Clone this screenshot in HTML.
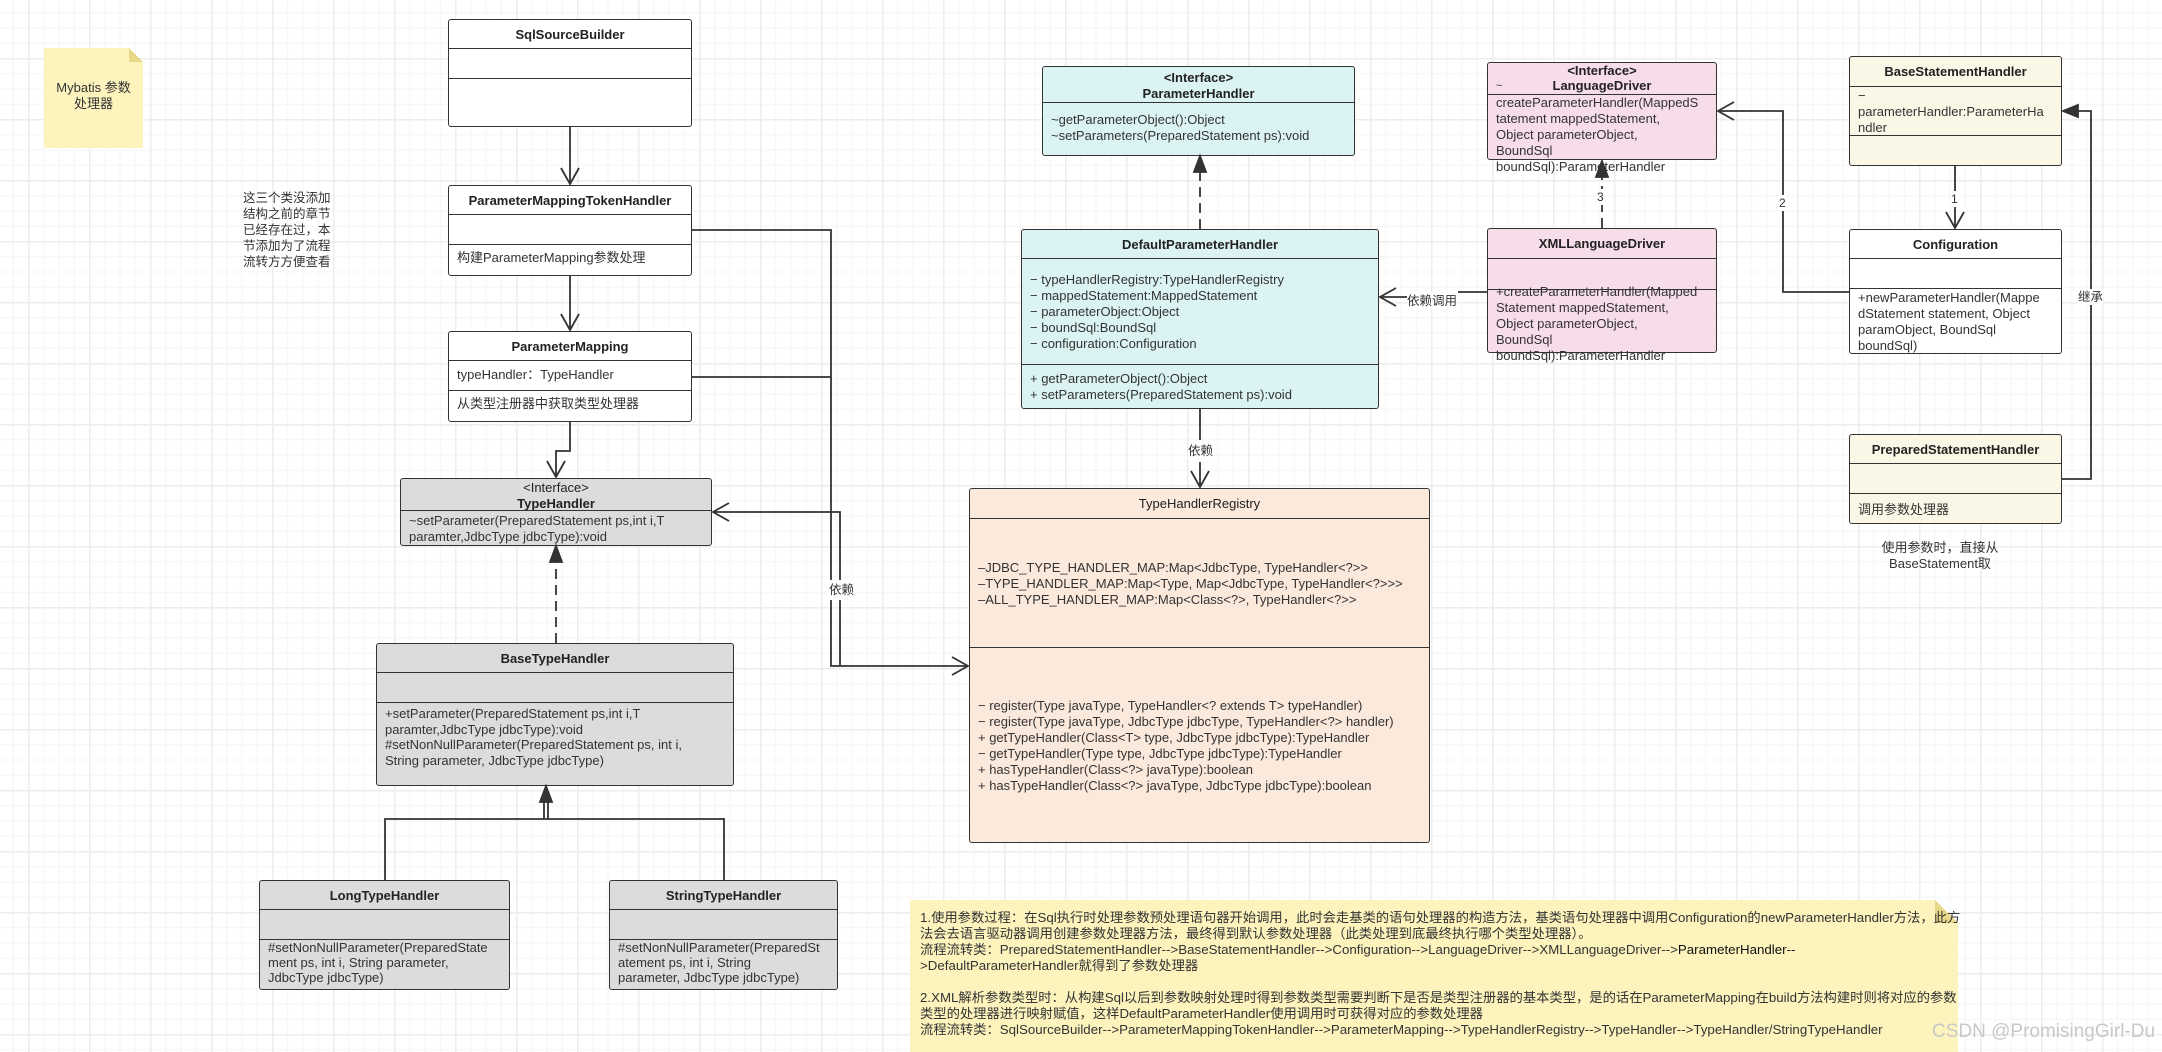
<!DOCTYPE html>
<html><head><meta charset="utf-8">
<style>
html,body{margin:0;padding:0;}
body{width:2162px;height:1052px;position:relative;overflow:hidden;background-color:#fff;
background-image:
linear-gradient(to right,#ededed 1.5px,transparent 1.5px),
linear-gradient(to bottom,#ededed 1.5px,transparent 1.5px),
linear-gradient(to right,#f5f5f5 1px,transparent 1px),
linear-gradient(to bottom,#f5f5f5 1px,transparent 1px);
background-size:61px 61px,61px 61px,15.25px 15.25px,15.25px 15.25px;
background-position:28px 58px,28px 58px,28px 58px,28px 58px;
font-family:"Liberation Sans","Noto Sans CJK SC",sans-serif;color:#333;}
.b{position:absolute;border:1.6px solid #333;border-radius:3px;box-sizing:border-box;}
.d{position:absolute;left:0;right:0;height:0;border-top:1.6px solid #333;}
.t{position:absolute;left:0;right:0;text-align:center;font-size:13px;font-weight:bold;color:#222;}
.m{position:absolute;left:8px;font-size:13px;line-height:16px;white-space:pre;color:#333;}
.txt{position:absolute;font-size:13px;line-height:16px;white-space:pre;color:#333;}
.cyan{background:#dbf3f3}.pink{background:#f7dcea}.beige{background:#fbf7e6}.peach{background:#fbe9dc}.grey{background:#dcdcdc}.white{background:#fff}
svg{position:absolute;left:0;top:0;}
</style></head><body>

<div style="position:absolute;left:44px;top:48px;width:99px;height:100px;background:#fdf3bd;clip-path:polygon(0 0,86% 0,100% 14%,100% 100%,0 100%);"></div>
<div style="position:absolute;left:129px;top:48px;width:14px;height:14px;background:#e8d98a;clip-path:polygon(0 0,0 100%,100% 100%);"></div>
<div class="txt" style="left:44px;top:80px;width:99px;text-align:center;">Mybatis 参数
处理器</div>

<div class="txt" style="left:243px;top:190px;line-height:16px;font-size:12.5px;">这三个类没添加
结构之前的章节
已经存在过，本
节添加为了流程
流转方方便查看</div>

<div class="b white" style="left:448px;top:19px;width:244px;height:108px;">
<div class="t" style="top:7px">SqlSourceBuilder</div>
<div class="d" style="top:28px"></div><div class="d" style="top:58px"></div></div>

<div class="b white" style="left:448px;top:185px;width:244px;height:91px;">
<div class="t" style="top:7px">ParameterMappingTokenHandler</div>
<div class="d" style="top:28px"></div><div class="d" style="top:58px"></div>
<div class="m" style="top:64px">构建ParameterMapping参数处理</div></div>

<div class="b white" style="left:448px;top:331px;width:244px;height:91px;">
<div class="t" style="top:7px">ParameterMapping</div>
<div class="d" style="top:28px"></div><div class="d" style="top:58px"></div>
<div class="m" style="top:35px">typeHandler：TypeHandler</div>
<div class="m" style="top:64px">从类型注册器中获取类型处理器</div></div>

<div class="b grey" style="left:400px;top:478px;width:312px;height:68px;">
<div class="t" style="top:1px;line-height:16px;font-weight:normal">&lt;Interface&gt;<br><b>TypeHandler</b></div>
<div class="d" style="top:31px"></div>
<div class="m" style="top:34px">~setParameter(PreparedStatement ps,int i,T
paramter,JdbcType jdbcType):void</div></div>

<div class="b grey" style="left:376px;top:643px;width:358px;height:143px;">
<div class="t" style="top:7px">BaseTypeHandler</div>
<div class="d" style="top:28px"></div><div class="d" style="top:58px"></div>
<div class="m" style="top:62px;line-height:15.5px">+setParameter(PreparedStatement ps,int i,T
paramter,JdbcType jdbcType):void
#setNonNullParameter(PreparedStatement ps, int i,
String parameter, JdbcType jdbcType)</div></div>

<div class="b grey" style="left:259px;top:880px;width:251px;height:110px;">
<div class="t" style="top:7px">LongTypeHandler</div>
<div class="d" style="top:28px"></div><div class="d" style="top:58px"></div>
<div class="m" style="top:59px;line-height:15px">#setNonNullParameter(PreparedState
ment ps, int i, String parameter,
JdbcType jdbcType)</div></div>

<div class="b grey" style="left:609px;top:880px;width:229px;height:110px;">
<div class="t" style="top:7px">StringTypeHandler</div>
<div class="d" style="top:28px"></div><div class="d" style="top:58px"></div>
<div class="m" style="top:59px;line-height:15px">#setNonNullParameter(PreparedSt
atement ps, int i, String
parameter, JdbcType jdbcType)</div></div>

<div class="b cyan" style="left:1042px;top:66px;width:313px;height:90px;">
<div class="t" style="top:3px;line-height:16px">&lt;Interface&gt;<br>ParameterHandler</div>
<div class="d" style="top:35px"></div>
<div class="m" style="top:45px">~getParameterObject():Object
~setParameters(PreparedStatement ps):void</div></div>

<div class="b cyan" style="left:1021px;top:229px;width:358px;height:180px;">
<div class="t" style="top:7px">DefaultParameterHandler</div>
<div class="d" style="top:28px"></div><div class="d" style="top:134px"></div>
<div class="m" style="top:42px">− typeHandlerRegistry:TypeHandlerRegistry
− mappedStatement:MappedStatement
− parameterObject:Object
− boundSql:BoundSql
− configuration:Configuration</div>
<div class="m" style="top:141px">+ getParameterObject():Object
+ setParameters(PreparedStatement ps):void</div></div>

<div class="b peach" style="left:969px;top:488px;width:461px;height:355px;">
<div class="t" style="top:7px;font-weight:normal">TypeHandlerRegistry</div>
<div class="d" style="top:29px"></div><div class="d" style="top:158px"></div>
<div class="m" style="top:71px">–JDBC_TYPE_HANDLER_MAP:Map&lt;JdbcType, TypeHandler&lt;?&gt;&gt;
–TYPE_HANDLER_MAP:Map&lt;Type, Map&lt;JdbcType, TypeHandler&lt;?&gt;&gt;&gt;
–ALL_TYPE_HANDLER_MAP:Map&lt;Class&lt;?&gt;, TypeHandler&lt;?&gt;&gt;</div>
<div class="m" style="top:209px">− register(Type javaType, TypeHandler&lt;? extends T&gt; typeHandler)
− register(Type javaType, JdbcType jdbcType, TypeHandler&lt;?&gt; handler)
+ getTypeHandler(Class&lt;T&gt; type, JdbcType jdbcType):TypeHandler
− getTypeHandler(Type type, JdbcType jdbcType):TypeHandler
+ hasTypeHandler(Class&lt;?&gt; javaType):boolean
+ hasTypeHandler(Class&lt;?&gt; javaType, JdbcType jdbcType):boolean</div></div>

<div class="b pink" style="left:1487px;top:62px;width:230px;height:98px;overflow:visible">
<div class="t" style="top:0px;line-height:15px">&lt;Interface&gt;<br>LanguageDriver</div>
<div class="m" style="top:15px;left:8px;font-size:11px">~</div>
<div class="d" style="top:31px"></div>
<div class="m" style="top:32px">createParameterHandler(MappedS
tatement mappedStatement,
Object parameterObject,
BoundSql
boundSql):ParameterHandler</div></div>

<div class="b pink" style="left:1487px;top:228px;width:230px;height:125px;overflow:visible">
<div class="t" style="top:7px">XMLLanguageDriver</div>
<div class="d" style="top:29px"></div>
<div class="m" style="top:55px">+createParameterHandler(Mapped
Statement mappedStatement,
Object parameterObject,
BoundSql
boundSql):ParameterHandler</div>
<div class="d" style="top:60px"></div></div>

<div class="b beige" style="left:1849px;top:56px;width:213px;height:110px;">
<div class="t" style="top:7px">BaseStatementHandler</div>
<div class="d" style="top:29px"></div><div class="d" style="top:78px"></div>
<div class="m" style="top:31px">−
parameterHandler:ParameterHa
ndler</div></div>

<div class="b white" style="left:1849px;top:229px;width:213px;height:125px;">
<div class="t" style="top:7px">Configuration</div>
<div class="d" style="top:28px"></div><div class="d" style="top:58px"></div>
<div class="m" style="top:60px">+newParameterHandler(Mappe
dStatement statement, Object
paramObject, BoundSql
boundSql)</div></div>

<div class="b beige" style="left:1849px;top:434px;width:213px;height:90px;">
<div class="t" style="top:7px">PreparedStatementHandler</div>
<div class="d" style="top:28px"></div><div class="d" style="top:58px"></div>
<div class="m" style="top:67px">调用参数处理器</div></div>

<div class="txt" style="left:1860px;top:540px;width:160px;text-align:center;">使用参数时，直接从
BaseStatement取</div>

<div style="position:absolute;left:910px;top:900px;width:1048px;height:152px;background:#fdf3bd;clip-path:polygon(0 0,1025px 0,100% 23px,100% 100%,0 100%);"></div>
<div style="position:absolute;left:1935px;top:900px;width:23px;height:23px;background:#e8d98a;clip-path:polygon(0 0,0 100%,100% 100%);"></div>
<div class="txt" style="left:920px;top:910px;font-size:13.3px;">1.使用参数过程：在Sql执行时处理参数预处理语句器开始调用，此时会走基类的语句处理器的构造方法，基类语句处理器中调用Configuration的newParameterHandler方法，此方
法会去语言驱动器调用创建参数处理器方法，最终得到默认参数处理器（此类处理到底最终执行哪个类型处理器）。
流程流转类：PreparedStatementHandler-->BaseStatementHandler-->Configuration-->LanguageDriver-->XMLLanguageDriver--><span style="color:#111">ParameterHandler--</span>
>DefaultParameterHandler就得到了参数处理器

2.XML解析参数类型时：从构建Sql以后到参数映射处理时得到参数类型需要判断下是否是类型注册器的基本类型，是的话在ParameterMapping在build方法构建时则将对应的参数
类型的处理器进行映射赋值，这样DefaultParameterHandler使用调用时可获得对应的参数处理器
流程流转类：SqlSourceBuilder-->ParameterMappingTokenHandler-->ParameterMapping-->TypeHandlerRegistry-->TypeHandler-->TypeHandler/StringTypeHandler</div>
<div class="txt" style="left:1932px;top:1022px;font-size:19px;line-height:20px;color:#c8c8c8;">CSDN @PromisingGirl-Du</div>

<svg width="2162" height="1052" viewBox="0 0 2162 1052" fill="none" stroke="#333" stroke-width="1.8">
<path d="M570 127 V183"/><path d="M561 168 L570 184 L579 168"/>
<path d="M570 276 V329"/><path d="M561 314 L570 330 L579 314"/>
<path d="M570 422 V451 H556 V476"/><path d="M547 461 L556 477 L565 461"/>
<path d="M556 643 V560" stroke-dasharray="10 6"/>
<path d="M550 562 L556 546 L562 562 Z" fill="#333"/>
<path d="M544 800 V819 M548 800 V819"/>
<path d="M540 802 L546 786 L552 802 Z" fill="#333"/>
<path d="M385 880 V819 H724 V880"/>
<path d="M692 230 H831 V666 H967"/><path d="M692 377 H831"/>
<path d="M952 657 L968 666 L952 675"/>
<path d="M840 666 V512 H714"/><path d="M729 503 L713 512 L729 521"/>
<rect x="826" y="580" width="28" height="20" fill="#fff" stroke="none"/>
<path d="M1200 229 V172" stroke-dasharray="10 6"/>
<path d="M1194 172 L1200 156 L1206 172 Z" fill="#333"/>
<path d="M1200 408 V440 M1200 462 V486"/><path d="M1191 471 L1200 487 L1209 471"/>
<path d="M1487 292 H1458 M1407 297 H1381"/><path d="M1396 288 L1380 297 L1396 306"/>
<path d="M1602 228 V176" stroke-dasharray="10 6"/>
<path d="M1596 177 L1602 161 L1608 177 Z" fill="#333"/>
<path d="M1849 292 H1783 V111 H1719"/><path d="M1734 102 L1718 111 L1734 120"/>
<path d="M1955 166 V227"/><path d="M1946 212 L1955 228 L1964 212"/>
<path d="M2062 479 H2091 V111 H2078"/><path d="M2078 105 L2063 111 L2078 117 Z" fill="#333"/>
</svg>
<div class="txt" style="left:829px;top:582px;font-size:12.5px;">依赖</div>
<div class="txt" style="left:1188px;top:443px;font-size:12.5px;background:#fff;">依赖</div>
<div class="txt" style="left:1407px;top:293px;font-size:12.5px;background:#fff;">依赖调用</div>
<div class="txt" style="left:1597px;top:189px;font-size:12px;background:#fff;">3</div>
<div class="txt" style="left:1779px;top:195px;font-size:12px;background:#fff;">2</div>
<div class="txt" style="left:1951px;top:191px;font-size:12px;background:#fff;">1</div>
<div class="txt" style="left:2078px;top:289px;font-size:12.5px;background:#fff;">继承</div>
</body></html>
